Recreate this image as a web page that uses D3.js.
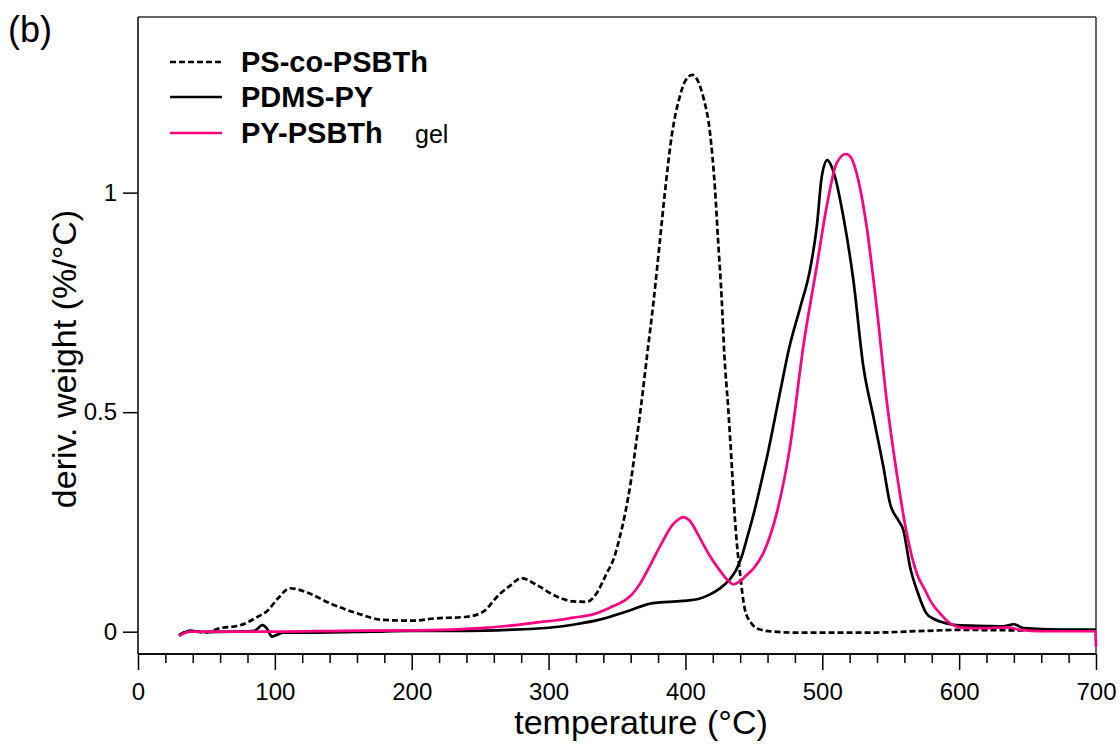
<!DOCTYPE html>
<html><head><meta charset="utf-8">
<script src="https://cdn.jsdelivr.net/npm/d3@7"></script>
<style>body{margin:0;background:#fff}svg{display:block}text{font-family:Arial,"Liberation Sans",sans-serif}</style>
</head><body><svg id="c" width="1120" height="747"></svg>
<script>
const seriesNames = ["PS-co-PSBTh", "PDMS-PY", "PY-PSBTh"];
const xTicks = [0, 100, 200, 300, 400, 500, 600, 700];
const yTicks = [0, 0.5, 1];
const yTickLabels = ["0", "0.5", "1"];

const psT = [30,38,48,60,75,88,94,102,111,123,140,160,179,201,216,240,252,264,272,280,291,306,318,328,335,342,348,352,356,360,364,367,372,377,381,385,390,396,400,405,409,413,418,421.6,424,426.5,428.4,431.3,433.8,436.2,440,443.5,448,452,457,465,481,537,576,600,650,700];
const psV = [-0.008,0.002,-0.002,0.008,0.015,0.035,0.046,0.075,0.099,0.09,0.065,0.042,0.027,0.025,0.03,0.034,0.045,0.085,0.105,0.122,0.107,0.08,0.069,0.068,0.087,0.13,0.17,0.215,0.27,0.34,0.43,0.5,0.63,0.76,0.88,1.0,1.13,1.22,1.255,1.268,1.255,1.218,1.135,1.009,0.884,0.758,0.633,0.507,0.382,0.255,0.13,0.05,0.02,0.008,0.003,0.0,-0.002,-0.002,0.002,0.004,0.003,0.003];

const pdT = [30,38,50,70,85,91,94,98,106,130,170,200,240,270,300,320,338,357,376,398,410,418,425,432,437,441,445,450,455,459.4,469,476,484,491,496,499.6,503.7,506,509.3,515.4,522.7,530,537.3,544.6,549.5,555.5,559.2,564.1,570,576,581,586,598,620,632,640,647,674,700];
const pdV = [-0.008,0.002,-0.001,0.0,0.002,0.015,0.008,-0.011,-0.002,-0.002,0.0,0.002,0.002,0.004,0.009,0.017,0.028,0.046,0.065,0.07,0.075,0.085,0.098,0.118,0.14,0.17,0.213,0.27,0.335,0.395,0.543,0.649,0.74,0.824,0.923,1.036,1.074,1.065,1.036,0.945,0.801,0.604,0.49,0.376,0.292,0.254,0.232,0.148,0.087,0.042,0.03,0.023,0.015,0.013,0.012,0.017,0.008,0.005,0.005];

const pyT = [30,38,60,100,150,200,221,250,269,293.7,306,318,333,345,355,361,367,374,381,391,395,398.4,403.3,410.6,418,426.5,430,435,440,444.8,450,456.9,466.7,476.4,486.1,495.9,503.2,510.5,517.3,521,525.1,532.4,539.7,547,554.4,561.7,569,575,580,586,593.3,605,620,635,645,660,699.5,700];
const pyV = [-0.01,0.0,0.0,0.0,0.002,0.003,0.004,0.008,0.013,0.022,0.026,0.032,0.04,0.055,0.07,0.085,0.11,0.15,0.192,0.245,0.256,0.261,0.252,0.213,0.172,0.134,0.12,0.108,0.115,0.129,0.145,0.179,0.27,0.421,0.649,0.831,0.968,1.067,1.088,1.08,1.044,0.923,0.74,0.528,0.361,0.224,0.133,0.095,0.065,0.042,0.019,0.008,0.008,0.01,0.004,0.001,0.001,-0.034];

const PINK = "#ff0080";
const svg = d3.select("#c");
const L = 138, R = 1096, T = 17, B = 654;
const x = d3.scaleLinear().domain([0, 700]).range([L, R]);
const y = d3.scaleLinear().domain([-0.0508, 1.4]).range([B, T]);

// frame top/right
svg.append("line").attr("x1", L).attr("x2", R).attr("y1", T).attr("y2", T).attr("stroke", "#333").attr("stroke-width", 1.5);
svg.append("line").attr("x1", R).attr("x2", R).attr("y1", T).attr("y2", B).attr("stroke", "#333").attr("stroke-width", 1.5);

// x axis
const xMinor = d3.range(0, 701, 20).filter(v => v % 100 !== 0);
const gx = svg.append("g").attr("transform", `translate(0,${B})`);
gx.call(d3.axisBottom(x).tickValues(xTicks).tickSize(16).tickPadding(13).tickFormat(d3.format("d")));
gx.append("g").call(d3.axisBottom(x).tickValues(xMinor).tickSize(9).tickFormat(""));
gx.selectAll(".domain").attr("stroke-width", 1.5).attr("d", `M${L},0H${R}`);
gx.selectAll(".tick line").attr("stroke-width", 1.5);
gx.selectAll("text").attr("font-size", 24).attr("fill", "#000").style("font-family", "Arial, 'Liberation Sans', sans-serif");

// y axis
const gy = svg.append("g").attr("transform", `translate(${L},0)`);
gy.call(d3.axisLeft(y).tickValues(yTicks).tickSize(15).tickPadding(6).tickFormat((d, i) => yTickLabels[i]));
gy.selectAll(".domain").attr("stroke-width", 1.5).attr("d", `M0,${T}V${B}`);
gy.selectAll(".tick line").attr("stroke-width", 1.5);
gy.selectAll("text").attr("font-size", 24).attr("fill", "#000").style("font-family", "Arial, 'Liberation Sans', sans-serif");

// axis titles
svg.append("text").attr("x", 641).attr("y", 734).attr("text-anchor", "middle").attr("font-size", 34).text("temperature (°C)");
svg.append("text").attr("transform", "translate(76,359) rotate(-90)").attr("text-anchor", "middle").attr("font-size", 34).text("deriv. weight (%/°C)");
svg.append("text").attr("x", 8).attr("y", 42).attr("font-size", 36).text("(b)");

// lines
const line = d3.line().x(d => x(d[0])).y(d => y(d[1])).curve(d3.curveMonotoneX);
const data = [
  {name: seriesNames[0], pts: d3.zip(psT, psV), color: "#000", dash: "6,3"},
  {name: seriesNames[1], pts: d3.zip(pdT, pdV), color: "#000", dash: null},
  {name: seriesNames[2], pts: d3.zip(pyT, pyV), color: PINK, dash: null}
];
svg.append("g").selectAll("path").data(data).join("path")
  .attr("d", d => line(d.pts)).attr("fill", "none").attr("stroke", d => d.color)
  .attr("stroke-width", 2.7).attr("stroke-dasharray", d => d.dash).attr("stroke-linejoin", "round");

// legend
const lg = svg.append("g");
const ly = [62, 97, 133];
data.forEach((d, i) => {
  lg.append("line").attr("x1", 170).attr("x2", 222).attr("y1", ly[i]).attr("y2", ly[i])
    .attr("stroke", d.color).attr("stroke-width", 2.7).attr("stroke-dasharray", d.dash);
  lg.append("text").attr("x", 241).attr("y", ly[i] + 10).attr("font-size", 29).attr("font-weight", "bold").text(d.name);
});
lg.append("text").attr("x", 415).attr("y", ly[2] + 10).attr("font-size", 25).text("gel");
</script></body></html>
